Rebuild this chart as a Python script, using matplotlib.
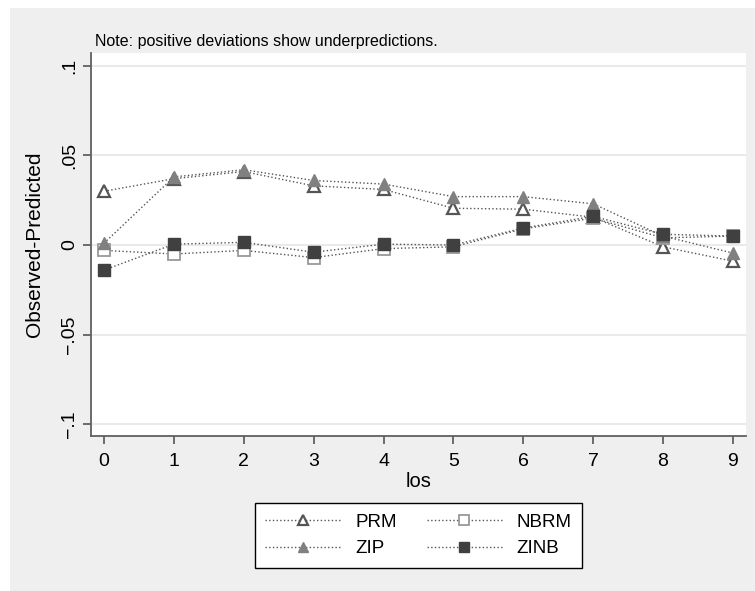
import matplotlib.pyplot as plt
from matplotlib.patches import Rectangle

plt.rcParams['font.family'] = ['Liberation Sans', 'DejaVu Sans']

los = [0, 1, 2, 3, 4, 5, 6, 7, 8, 9]
prm = [0.030, 0.037, 0.041, 0.033, 0.031, 0.0205, 0.020, 0.0155, -0.001, -0.009]
nbrm = [-0.003, -0.005, -0.003, -0.007, -0.002, -0.001, 0.009, 0.015, 0.004, 0.005]
zip_ = [0.001, 0.038, 0.042, 0.036, 0.034, 0.027, 0.027, 0.023, 0.005, -0.0045]
zinb = [-0.014, 0.0005, 0.0015, -0.004, 0.0005, 0.0, 0.0095, 0.016, 0.006, 0.005]

yticks = [-0.1, -0.05, 0, 0.05, 0.1]
ylabels = ['\u2212.1', '\u2212.05', '0', '.05', '.1']

fig = plt.figure(figsize=(7.55, 5.91), dpi=100)
fig.patches.append(Rectangle((10 / 755, 0), 1 - 10 / 755, 583 / 591,
                             transform=fig.transFigure, facecolor='#efefef',
                             edgecolor='none', zorder=-5))
ax = fig.add_axes([0.1205, 0.2623, 0.8675, 0.6477])
ax.set_facecolor('white')

line_kw = dict(color='#555555', linestyle=':', linewidth=1.0, markersize=9)
ax.plot(los, prm, marker='^', markerfacecolor='white', markeredgecolor='#555555',
        markeredgewidth=1.6, label='PRM', **line_kw)
ax.plot(los, nbrm, marker='s', markerfacecolor='white', markeredgecolor='#999999',
        markeredgewidth=1.3, label='NBRM', **line_kw)
ax.plot(los, zip_, marker='^', markerfacecolor='#808080', markeredgecolor='#808080',
        label='ZIP', **line_kw)
ax.plot(los, zinb, marker='s', markerfacecolor='#404040', markeredgecolor='#404040',
        label='ZINB', **line_kw)

ax.set_xlim(-0.186, 9.186)
ax.set_ylim(-0.1065, 0.107)
ax.set_xticks(los)
ax.set_yticks(yticks)
ax.set_yticklabels(ylabels, rotation=90, va='center')
ax.grid(axis='y', color='#eaeaea', linewidth=1.5)
ax.set_axisbelow(True)
ax.tick_params(labelsize=14, length=6, width=1.2, color='#555555', direction='out')
ax.tick_params(axis='x', pad=6)
for s in ['top', 'right']:
    ax.spines[s].set_visible(False)
for s in ['left', 'bottom']:
    ax.spines[s].set_color('#606060')
    ax.spines[s].set_linewidth(1.3)

ax.set_xlabel('los', fontsize=14.5, labelpad=2)
ax.set_ylabel('Observed-Predicted', fontsize=15, labelpad=12)
ax.text(0.006, 1.012, 'Note: positive deviations show underpredictions.',
        transform=ax.transAxes, fontsize=11.5, ha='left', va='bottom')

handles, labels = ax.get_legend_handles_labels()
order = [0, 2, 1, 3]
leg = fig.legend([handles[i] for i in order], [labels[i] for i in order],
                 ncol=2, loc='center', bbox_to_anchor=(418.5 / 755, 1 - 535.5 / 591),
                 fontsize=13.5, frameon=True, fancybox=False, edgecolor='black',
                 framealpha=1, handlelength=4.0, columnspacing=1.6, labelspacing=0.5,
                 handletextpad=0.8, borderpad=0.55, markerscale=0.8)
leg.get_frame().set_linewidth(1.0)

plt.savefig('out.png', dpi=100)
